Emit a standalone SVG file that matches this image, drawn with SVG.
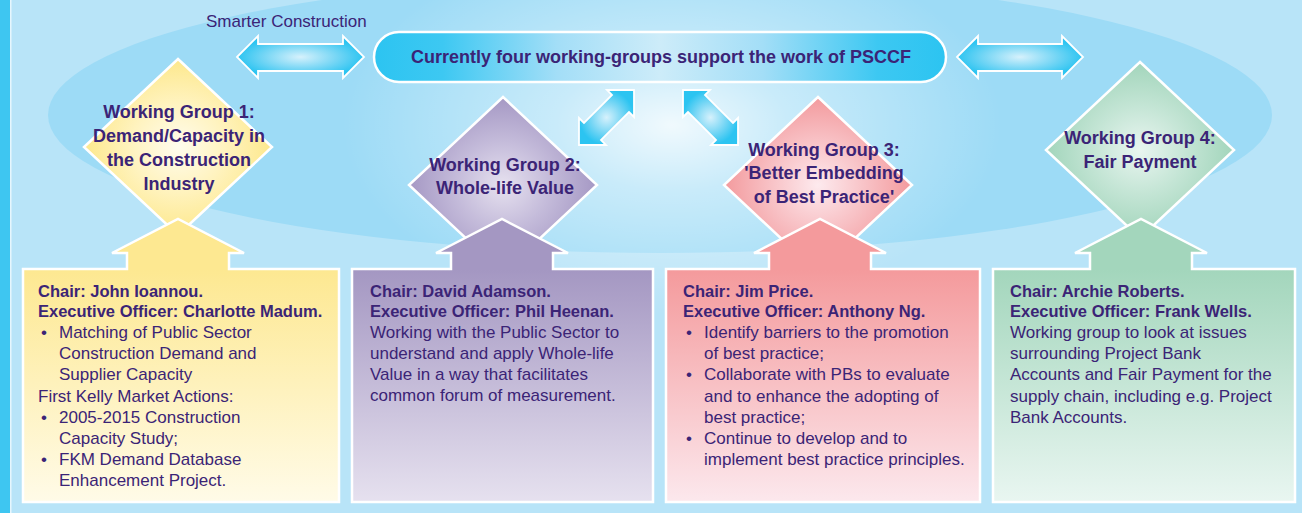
<svg xmlns="http://www.w3.org/2000/svg" width="1302" height="513" viewBox="0 0 1302 513">
<defs>
<style>
text{font-family:"Liberation Sans",Arial,sans-serif;fill:#3b2476}
.t{font-size:18px;font-weight:bold;text-anchor:middle}
.b{font-size:16.5px;font-weight:bold}
.r{font-size:17px}
.sh{stroke:#fff;stroke-width:2.5;stroke-linejoin:miter}
.arr{fill:url(#gArr);stroke:#fff;stroke-width:1.8}
</style>
<radialGradient id="gGlow" cx="0.5" cy="0.5" r="0.5">
<stop offset="0" stop-color="#fff" stop-opacity="0.85"/>
<stop offset="0.35" stop-color="#fff" stop-opacity="0.45"/>
<stop offset="1" stop-color="#fff" stop-opacity="0"/>
</radialGradient>
<radialGradient id="gArr" cx="0.5" cy="0.5" r="0.5">
<stop offset="0" stop-color="#d6f1fc"/>
<stop offset="0.55" stop-color="#7ad7f5"/>
<stop offset="1" stop-color="#2cc4f1"/>
</radialGradient>
<linearGradient id="gPill" x1="0" y1="0" x2="1" y2="0">
<stop offset="0" stop-color="#2cc4f1"/>
<stop offset="0.12" stop-color="#3dc8f2"/>
<stop offset="0.32" stop-color="#a3def7"/>
<stop offset="0.5" stop-color="#cdecf9"/>
<stop offset="0.68" stop-color="#a3def7"/>
<stop offset="0.88" stop-color="#3dc8f2"/>
<stop offset="1" stop-color="#2cc4f1"/>
</linearGradient>
<radialGradient id="d1" cx="0.5" cy="0.5" r="0.5"><stop offset="0" stop-color="#fffcee"/><stop offset="0.5" stop-color="#fff3bf"/><stop offset="1" stop-color="#fde88c"/></radialGradient>
<radialGradient id="d2" cx="0.5" cy="0.5" r="0.5"><stop offset="0" stop-color="#e6e1ef"/><stop offset="0.5" stop-color="#c4bbda"/><stop offset="1" stop-color="#a598c4"/></radialGradient>
<radialGradient id="d3" cx="0.5" cy="0.5" r="0.5"><stop offset="0" stop-color="#fdeaee"/><stop offset="0.5" stop-color="#f8c2c6"/><stop offset="1" stop-color="#f39a9d"/></radialGradient>
<radialGradient id="d4" cx="0.5" cy="0.5" r="0.5"><stop offset="0" stop-color="#e9f5f0"/><stop offset="0.5" stop-color="#c4e5d5"/><stop offset="1" stop-color="#a2d5bb"/></radialGradient>
<linearGradient id="b1" gradientUnits="userSpaceOnUse" x1="0" y1="219" x2="0" y2="502"><stop offset="0.18" stop-color="#fde891"/><stop offset="1" stop-color="#fffbe8"/></linearGradient>
<linearGradient id="b2" gradientUnits="userSpaceOnUse" x1="0" y1="219" x2="0" y2="502"><stop offset="0.18" stop-color="#a497c2"/><stop offset="1" stop-color="#e6e1ef"/></linearGradient>
<linearGradient id="b3" gradientUnits="userSpaceOnUse" x1="0" y1="219" x2="0" y2="502"><stop offset="0.18" stop-color="#f49a9c"/><stop offset="1" stop-color="#fce8ed"/></linearGradient>
<linearGradient id="b4" gradientUnits="userSpaceOnUse" x1="0" y1="219" x2="0" y2="502"><stop offset="0.18" stop-color="#a3d6bc"/><stop offset="1" stop-color="#e9f6f1"/></linearGradient>
</defs>

<g id="background">
<rect x="0" y="0" width="1302" height="513" fill="#b8e4f8"/>
<ellipse cx="660" cy="115" rx="612" ry="138" fill="#9ddbf6"/>
<ellipse cx="672" cy="125" rx="330" ry="190" fill="url(#gGlow)"/>
<rect x="0" y="0" width="10" height="513" fill="#3ec6f1"/>
<rect x="10" y="0" width="1.5" height="513" fill="#e6f6fd"/>
</g>

<g id="connectors">
<path class="arr" d="M237,57 L258,36 L258,44 L343,44 L343,36 L364,57 L343,78 L343,71 L258,71 L258,78 Z"/>
<path class="arr" d="M957,57 L978,36 L978,44 L1062,44 L1062,36 L1083,57 L1062,78 L1062,71 L978,71 L978,78 Z"/>
<path class="arr" d="M634,90 L634,117 L629,112 L601,140 L606,145 L579,145 L579,118 L584,123 L612,95 L607,90 Z"/>
<path class="arr" d="M683,90 L683,117 L688,112 L716,140 L711,145 L738,145 L738,118 L733,123 L705,95 L710,90 Z"/>
</g>

<g id="smarter-construction">
<text x="206" y="27" style="font-size:17px">Smarter Construction</text>
</g>

<g id="pscff">
<rect x="374" y="32" width="572" height="50" rx="25" ry="25" fill="url(#gPill)" class="sh"/>
<text class="t" x="661" y="63">Currently four working-groups support the work of PSCCF</text>
</g>

<g id="wg1">
<polygon class="sh" fill="url(#d1)" points="178,59 272,147 178,235 84,147"/>
<path class="sh" fill="url(#b1)" d="M23,269 L127,269 L127,253 L112,253 L178,219 L244,253 L229,253 L229,269 L339,269 L339,502 L23,502 Z"/>
<text class="t" x="179" y="118">Working Group 1:</text>
<text class="t" x="179" y="142">Demand/Capacity in</text>
<text class="t" x="179" y="166">the Construction</text>
<text class="t" x="179" y="190">Industry</text>
<text class="b" x="38" y="297">Chair: John Ioannou.</text>
<text class="b" x="38" y="317">Executive Officer: Charlotte Madum.</text>
<text class="r" x="41" y="338">•</text><text class="r" x="59" y="338">Matching of Public Sector</text>
<text class="r" x="59" y="359">Construction Demand and</text>
<text class="r" x="59" y="380">Supplier Capacity</text>
<text class="r" x="38" y="402">First Kelly Market Actions:</text>
<text class="r" x="41" y="423">•</text><text class="r" x="59" y="423">2005-2015 Construction</text>
<text class="r" x="59" y="444">Capacity Study;</text>
<text class="r" x="41" y="465">•</text><text class="r" x="59" y="465">FKM Demand Database</text>
<text class="r" x="59" y="486">Enhancement Project.</text>
</g>

<g id="wg2">
<polygon class="sh" fill="url(#d2)" points="503,97 597,185 503,273 409,185"/>
<path class="sh" fill="url(#b2)" d="M352,269 L451,269 L451,253 L436,253 L502,219 L568,253 L553,253 L553,269 L653,269 L653,502 L352,502 Z"/>
<text class="t" x="505" y="171">Working Group 2:</text>
<text class="t" x="505" y="194">Whole-life Value</text>
<text class="b" x="370" y="297">Chair: David Adamson.</text>
<text class="b" x="370" y="317">Executive Officer: Phil Heenan.</text>
<text class="r" x="370" y="338">Working with the Public Sector to</text>
<text class="r" x="370" y="359">understand and apply Whole-life</text>
<text class="r" x="370" y="380">Value in a way that facilitates</text>
<text class="r" x="370" y="401">common forum of measurement.</text>
</g>

<g id="wg3">
<polygon class="sh" fill="url(#d3)" points="818,97 912,185 818,273 724,185"/>
<path class="sh" fill="url(#b3)" d="M666,269 L769,269 L769,253 L754,253 L820,219 L886,253 L871,253 L871,269 L980,269 L980,502 L666,502 Z"/>
<text class="t" x="824" y="156">Working Group 3:</text>
<text class="t" x="824" y="179">'Better Embedding</text>
<text class="t" x="824" y="203">of Best Practice'</text>
<text class="b" x="683" y="297">Chair: Jim Price.</text>
<text class="b" x="683" y="317">Executive Officer: Anthony Ng.</text>
<text class="r" x="686" y="338">•</text><text class="r" x="704" y="338">Identify barriers to the promotion</text>
<text class="r" x="704" y="359">of best practice;</text>
<text class="r" x="686" y="380">•</text><text class="r" x="704" y="380">Collaborate with PBs to evaluate</text>
<text class="r" x="704" y="402">and to enhance the adopting of</text>
<text class="r" x="704" y="423">best practice;</text>
<text class="r" x="686" y="444">•</text><text class="r" x="704" y="444">Continue to develop and to</text>
<text class="r" x="704" y="465">implement best practice principles.</text>
</g>

<g id="wg4">
<polygon class="sh" fill="url(#d4)" points="1140,62 1234,150 1140,238 1046,150"/>
<path class="sh" fill="url(#b4)" d="M993,269 L1090,269 L1090,253 L1075,253 L1141,219 L1207,253 L1192,253 L1192,269 L1295,269 L1295,502 L993,502 Z"/>
<text class="t" x="1140" y="144">Working Group 4:</text>
<text class="t" x="1140" y="168">Fair Payment</text>
<text class="b" x="1010" y="297">Chair: Archie Roberts.</text>
<text class="b" x="1010" y="317">Executive Officer: Frank Wells.</text>
<text class="r" x="1010" y="338">Working group to look at issues</text>
<text class="r" x="1010" y="359">surrounding Project Bank</text>
<text class="r" x="1010" y="380">Accounts and Fair Payment for the</text>
<text class="r" x="1010" y="402">supply chain, including e.g. Project</text>
<text class="r" x="1010" y="423">Bank Accounts.</text>
</g>
</svg>
